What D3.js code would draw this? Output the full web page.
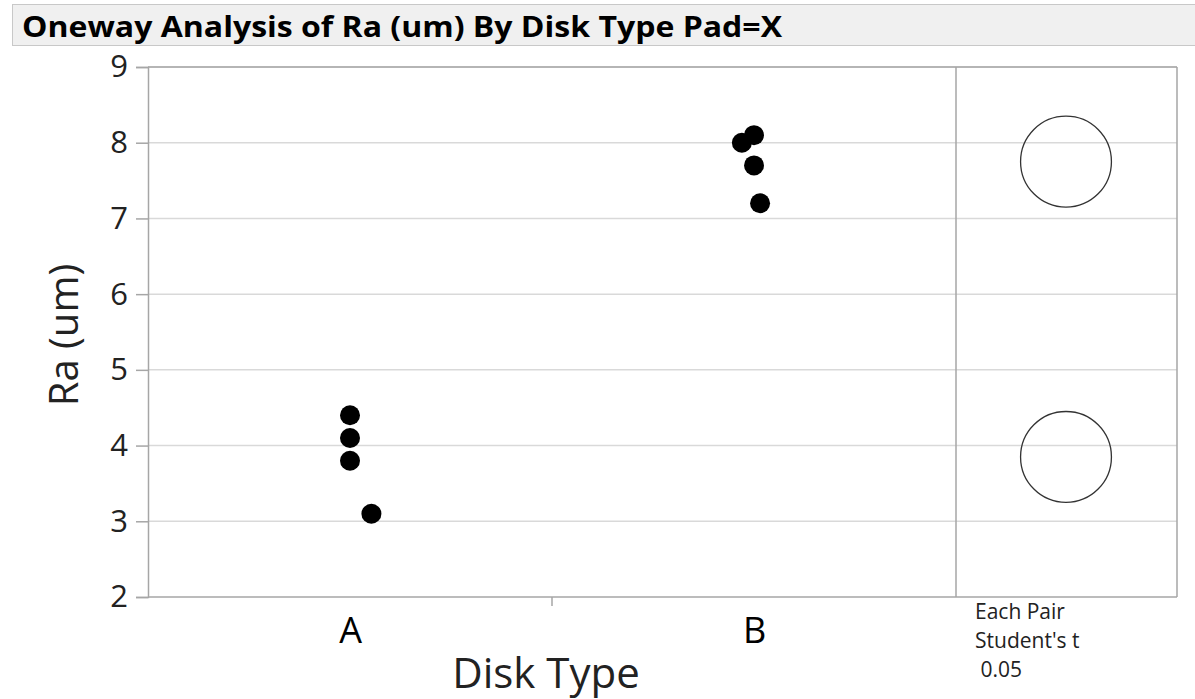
<!DOCTYPE html>
<html><head><meta charset="utf-8">
<script src="https://cdn.jsdelivr.net/npm/d3@7"></script>
<style>body{margin:0;background:#fff;} svg{display:block;font-family:"Open Sans","Noto Sans",sans-serif;}</style>
</head><body>
<svg id="c" width="1195" height="699"></svg>
<script>
const titleText = "Oneway Analysis of Ra (um) By Disk Type Pad=X";
const categories = ["A", "B"];
const groupA = [4.4, 4.1, 3.8, 3.1];
const groupB = [8.0, 8.1, 7.7, 7.2];
const jitterA = [0, 0, 0, 0.053];
const jitterB = [-0.03, 0, 0, 0.015];
const yTicks = [2, 3, 4, 5, 6, 7, 8, 9];
const means = [3.85, 7.75];
const circleRadius = [0.6, 0.6];
const footText = ["Each Pair", "Student's t", " 0.05"];

(function(){
const svg = d3.select("#c");
// title bar
svg.append("rect").attr("x",12.5).attr("y",4.5).attr("width",1190).attr("height",41)
  .attr("fill","#f0f0f0").attr("stroke","#c8c8c8");
svg.append("text").attr("x",22).attr("y",37).attr("font-size",28).attr("font-weight","bold")
  .attr("textLength",760).attr("lengthAdjust","spacingAndGlyphs")
  .text(titleText);

const pLeft=148, pRight=956, panelRight=1177, pTop=67, pBottom=597;
const y = d3.scaleLinear().domain([2,9]).range([pBottom,pTop]);
const x = d3.scaleLinear().domain([-0.5,1.5]).range([pLeft,pRight]);

// gridlines
svg.append("g").selectAll("line").data(yTicks.slice(1)).join("line")
  .attr("x1",pLeft).attr("x2",panelRight).attr("y1",d=>y(d)).attr("y2",d=>y(d))
  .attr("stroke","#d9d9d9").attr("stroke-width",1.5);

// frame
const frame = svg.append("g").attr("stroke","#a6a6a6").attr("stroke-width",1.5).attr("fill","none");
frame.append("line").attr("x1",pRight).attr("x2",pRight).attr("y1",pTop).attr("y2",pBottom);
frame.append("line").attr("x1",panelRight).attr("x2",panelRight).attr("y1",pTop).attr("y2",pBottom);
frame.append("line").attr("x1",pLeft).attr("x2",panelRight).attr("y1",pBottom).attr("y2",pBottom);
frame.append("line").attr("x1",pLeft).attr("x2",panelRight).attr("y1",pTop).attr("y2",pTop);

// y axis
const yAxis = svg.append("g").attr("transform",`translate(${pLeft},0)`)
  .call(d3.axisLeft(y).tickValues(yTicks).tickSize(12).tickPadding(8).tickFormat(d3.format("d")));
yAxis.select(".domain").attr("stroke","#a6a6a6").attr("stroke-width",1.5);
yAxis.selectAll(".tick line").attr("stroke","#a6a6a6").attr("stroke-width",1.5);
yAxis.selectAll("text").attr("font-size",31).attr("fill","#222").attr("font-family","Open Sans, sans-serif");

// x axis
const xAxis = svg.append("g").attr("transform",`translate(0,${pBottom})`)
  .call(d3.axisBottom(x).tickValues([0,1]).tickSize(0).tickPadding(20).tickFormat(i=>categories[i]));
xAxis.select(".domain").remove();
xAxis.selectAll("text").attr("font-size",36).attr("fill","#000").attr("font-family","Open Sans, sans-serif");
svg.append("line").attr("x1",x(0.5)).attr("x2",x(0.5)).attr("y1",pBottom).attr("y2",pBottom+9)
  .attr("stroke","#a6a6a6").attr("stroke-width",1.5);

// axis titles
svg.append("text").attr("transform",`translate(78,${(pTop+pBottom)/2+3}) rotate(-90)`)
  .attr("text-anchor","middle").attr("font-size",40).attr("fill","#222").text("Ra (um)");
svg.append("text").attr("x",546).attr("y",688).attr("text-anchor","middle")
  .attr("font-size",42).attr("fill","#222").text("Disk Type");

// points
const pts = [];
groupA.forEach((v,i)=>pts.push({g:0,v,j:jitterA[i]}));
groupB.forEach((v,i)=>pts.push({g:1,v,j:jitterB[i]}));
svg.append("g").selectAll("circle").data(pts).join("circle")
  .attr("cx",d=>x(d.g+d.j)).attr("cy",d=>y(d.v)).attr("r",10).attr("fill","#000");

// comparison circles
const cx = (pRight+panelRight)/2 - 0.5;
svg.append("g").selectAll("circle").data(means).join("circle")
  .attr("cx",cx).attr("cy",d=>y(d)).attr("r",(d,i)=>y(0)-y(circleRadius[i]))
  .attr("fill","none").attr("stroke","#333").attr("stroke-width",1.3);

// footer text
svg.append("g").selectAll("text").data(footText).join("text")
  .attr("x",975).attr("y",(d,i)=>619+i*29).attr("font-size",21).attr("fill","#222")
  .attr("xml:space","preserve").style("white-space","pre").text(d=>d);
})();
</script>
</body></html>
